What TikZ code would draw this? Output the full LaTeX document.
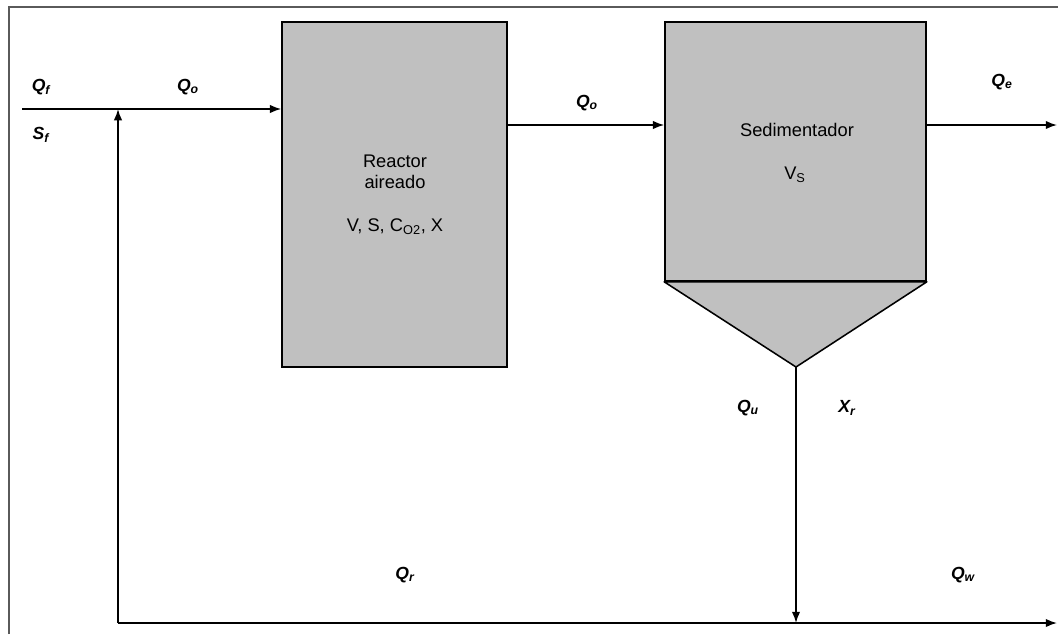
\documentclass[tikz,border=0pt]{standalone}
\usepackage{fontspec}
\setmainfont{Liberation Sans}
\usetikzlibrary{arrows.meta, positioning, calc}
\definecolor{tankgray}{RGB}{192,192,192}
\definecolor{framegray}{RGB}{90,90,90}
\tikzset{
  tank/.style={rectangle, draw=black, line width=1.1pt, fill=tankgray, inner sep=0pt},
  flow/.style={-{Latex[length=8pt,width=6pt]}, line width=1.1pt},
  flowlbl/.style={font=\fontsize{12.5}{14}\selectfont\bfseries\itshape, inner sep=1pt},
  tanklbl/.style={font=\fontsize{13}{15}\selectfont, align=center, inner sep=1pt},
}
\newcommand{\flw}[2]{#1\textsubscript{#2}}

\begin{document}
\begin{tikzpicture}[x=0.025cm, y=-0.025cm]
  \useasboundingbox (0,0) rectangle (1058,634);
  % frame
  \draw[framegray, line width=1pt] (9,634) -- (9,7) -- (1058,7);

  % tanks
  \node[tank, minimum width=5.625cm, minimum height=8.625cm] (reactor) at (394.5,194.5) {};
  \node[tank, minimum width=6.525cm, minimum height=6.475cm] (sed) at (795.5,151.5) {};
  \coordinate (apex) at (796,367);
  \filldraw[fill=tankgray, draw=black, line width=1.1pt, line join=round]
    (sed.south west) -- (sed.south east) -- (apex) -- cycle;

  % texts in the tanks
  \node[tanklbl] (reactxt) at (395,172) {Reactor\\aireado};
  \node[tanklbl] (reacvar) at (395,227) {V, S, C\textsubscript{O2}, X};
  \node[tanklbl] (sedtxt) at (797,130) {Sedimentador};
  \node[tanklbl] (sedvar) at (795,175) {V\textsubscript{S}};

  % flow points
  \coordinate (feed) at (22,109);
  \coordinate (mix) at (118,109);
  \coordinate (botL) at (118,623);
  \coordinate (botM) at (796,623);
  \coordinate (wout) at (1057,623);
  \coordinate (eout) at (1057,125);

  % connectors
  \draw[flow] (feed) -- (reactor.west |- feed);
  \draw[flow] (botL) -- (mix);
  \draw[flow] (reactor.east |- eout) -- (sed.west |- eout);
  \draw[flow] (sed.east |- eout) -- (eout);
  \draw[flow] (apex) -- (botM);
  \draw[flow] (botL) -- (wout);

  % flow labels
  \node[flowlbl] (qf) at (41,87) {\flw{Q}{f}};
  \node[flowlbl] (sf) at (41,135) {\flw{S}{f}};
  \node[flowlbl] (qo1) at (188,87) {\flw{Q}{o}};
  \node[flowlbl] (qo2) at (587,103) {\flw{Q}{o}};
  \node[flowlbl] (qe) at (1002,82) {\flw{Q}{e}};
  \node[flowlbl] (qu) at (748,408) {\flw{Q}{u}};
  \node[flowlbl] (xr) at (847,408) {\flw{X}{r}};
  \node[flowlbl] (qr) at (405,575) {\flw{Q}{r}};
  \node[flowlbl] (qw) at (963,575) {\flw{Q}{w}};
\end{tikzpicture}
\end{document}
